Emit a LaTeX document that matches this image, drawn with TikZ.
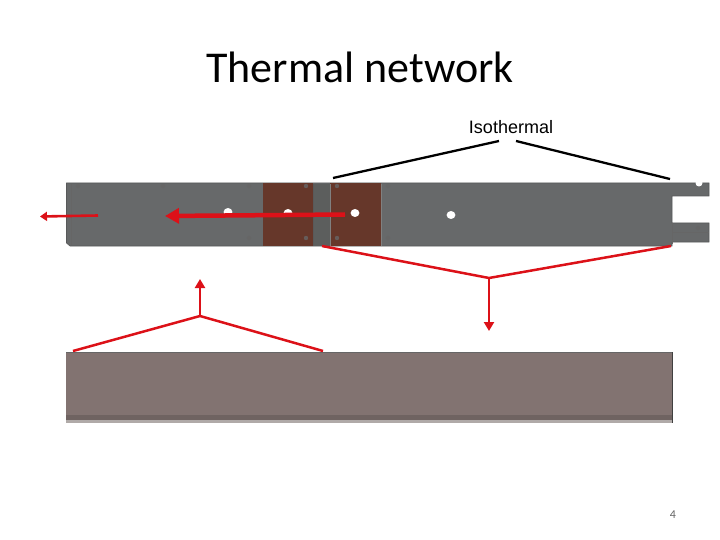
\documentclass[tikz,border=0pt]{standalone}
\usepackage{fontspec}
\setmainfont{Carlito}
\newfontfamily\arialf{Liberation Sans}
\usetikzlibrary{arrows.meta}
\definecolor{barg}{HTML}{67696A}
\definecolor{gapg}{HTML}{5C5E5D}
\definecolor{barb}{HTML}{66372A}
\definecolor{plate}{HTML}{827371}
\definecolor{plated}{HTML}{6F6361}
\definecolor{platel}{HTML}{B0AAA8}
\definecolor{redl}{HTML}{DC1118}
\tikzset{
 barshape/.style={fill=barg,draw=barg!85!black,line width=0.6pt},
 brownpad/.style={fill=barb,draw=none},
 hole/.style={fill=white,draw=none},
 screw/.style={fill=black!60,draw=none,opacity=.8},
 redline/.style={draw=redl,line width=2.5pt},
 redarrow/.style={redline,-{Triangle[length=9pt,width=10pt]}},
 blackline/.style={draw=black,line width=2.3pt},
 lab/.style={inner sep=0pt,anchor=center}
}
\begin{document}
\begin{tikzpicture}[x=1pt,y=-1pt]
\useasboundingbox (0,0) rectangle (720,540);
\node[lab,font=\fontsize{44}{48}\selectfont] (title) at (360,67) {Thermal network};
\node[lab,font=\arialf\fontsize{18}{20}\selectfont] (iso) at (511,127) {Isothermal};
\node[lab,font=\fontsize{12}{14}\selectfont,text=black!60] (num) at (673,515) {4};
% bar
\draw[barshape] (66.5,183) -- (709,183) -- (709,196) -- (672,196) -- (672,223) -- (709,223) -- (709,242) -- (672,242) -- (672,246) -- (70,246) -- (66.5,243) -- cycle;
\draw[black!60,line width=.8pt] (672,232) -- (709,232);
\draw[black!60,line width=1pt] (672,223) -- (672,244);
\draw[black!60,line width=.8pt] (71.5,184) -- (71.5,245);
\fill[hole] (699,183) circle (3.5);
\fill[gapg] (313,184) rectangle (330,245.5);
\fill[brownpad] (263,183.5) rectangle (313,245.5);
\fill[brownpad] (330,183.5) rectangle (381,245.5);
\draw[black!65,line width=.9pt] (313,184) -- (313,245.5);
\draw[black!50,line width=.7pt] (330,184) -- (330,245.5);
\draw[black!50,line width=.7pt] (381,184) -- (381,245.5);
\foreach \p in {(78,186),(163,186),(249,186),(306,186),(337,186),(388,186),(249,238),(306,238),(337,238),(388,238),(698,228)}
  \fill[screw] \p circle (2.2);
\foreach \p in {(228,212),(288,213),(355,213),(451,215)}
  \fill[hole] \p ellipse (4.4 and 4);
% plate
\fill[plate] (66,352) rectangle (672,423);
\fill[plated] (66,415) rectangle (672,420);
\fill[platel] (66,420) rectangle (672,423);
\draw[black!60,line width=.8pt] (66,352) -- (672,352);
\draw[black!75,line width=.8pt] (672,352) -- (672,423);
% connectors
\coordinate (a1) at (333,178); \coordinate (a2) at (499,141);
\coordinate (b1) at (516,141); \coordinate (b2) at (670,179);
\draw[blackline] (a1) -- (a2);
\draw[blackline] (b1) -- (b2);
\coordinate (c1) at (322,246); \coordinate (c2) at (489,278); \coordinate (c3) at (671,246); \coordinate (c4) at (489,331);
\draw[redline] (c1) -- (c2) -- (c3);
\draw[redarrow] (c2) -- (c4);
\coordinate (d1) at (73,351); \coordinate (d2) at (200,316); \coordinate (d3) at (323,351); \coordinate (d4) at (200,279);
\draw[redline] (d1) -- (d2) -- (d3);
\draw[redarrow] (d2) -- (d4);
\coordinate (e1) at (345,214.5); \coordinate (e2) at (165,216);
\draw[redline,line width=4.5pt,-{Triangle[length=14pt,width=15pt]}] (e1) -- (e2);
\coordinate (f1) at (98,215.5); \coordinate (f2) at (40,216.5);
\draw[redline,line width=2.6pt,-{Triangle[length=7pt,width=9pt]}] (f1) -- (f2);
\end{tikzpicture}
\end{document}
